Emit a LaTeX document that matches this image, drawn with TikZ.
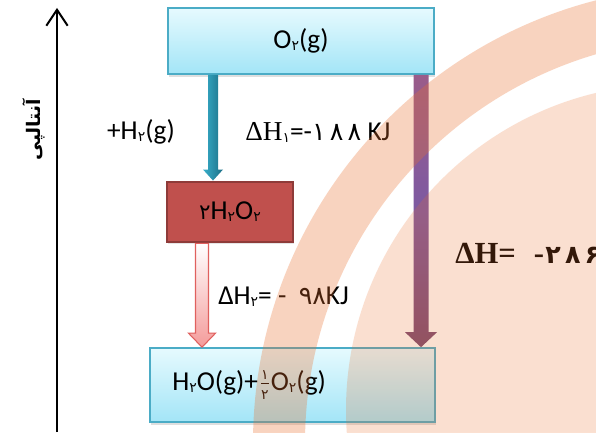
\documentclass[tikz,border=0pt]{standalone}
\usepackage{fontspec}
\setmainfont{Carlito}
\newfontfamily\fa[Script=Arabic]{DejaVu Sans}
\newfontfamily\tms{Liberation Serif}
\TeXXeTstate=1
\usetikzlibrary{arrows.meta,calc,shadows}
\definecolor{boxtop}{HTML}{E6FAFE}
\definecolor{boxbot}{HTML}{A3E5F7}
\definecolor{boxedge}{HTML}{4BACC6}
\definecolor{redfill}{HTML}{C0504D}
\definecolor{rededge}{HTML}{8E3B39}
\definecolor{pinkedge}{HTML}{E0605E}
\definecolor{pinkfill}{HTML}{F49B9A}
\definecolor{tealA}{HTML}{38AECA}
\definecolor{tealB}{HTML}{1C6F86}
\definecolor{purpA}{HTML}{9A5C8A}
\definecolor{purpB}{HTML}{7D5AA2}
\definecolor{wmark}{HTML}{EB702D}
\newcommand{\fsub}[1]{\raisebox{-1.5pt}{\fa\fontsize{10.5}{10.5}\selectfont #1}}
\newcommand{\fdig}[1]{{\fa\fontsize{19}{22}\selectfont #1}}
% fat arrow: style, start, tip, half shaft, half head, head length
\newcommand{\fatarrow}[6]{%
  \path[#1] ($(#2)+(-#4,0)$) -- ($(#3)+(-#4,#6)$) -- ($(#3)+(-#5,#6)$) -- (#3)
    -- ($(#3)+(#5,#6)$) -- ($(#3)+(#4,#6)$) -- ($(#2)+(#4,0)$) -- cycle;}
\begin{document}
\begin{tikzpicture}[x=0.75pt,y=0.75pt,
  txt/.style={inner sep=0pt,font=\fontsize{20.5}{24}\selectfont},
  cyanbox/.style={draw=boxedge,line width=1.2pt,top color=boxtop,bottom color=boxbot,
    drop shadow={opacity=0.25,shadow xshift=0.5pt,shadow yshift=-2pt},inner sep=0pt},
  wm/.style={fill=wmark,fill opacity=#1}]
  \path[use as bounding box,fill=white] (0,0) rectangle (596,432);
  % enthalpy axis
  \coordinate (axbot) at (57,0); \coordinate (axtop) at (57,424);
  \draw[line width=1.5pt,-{Straight Barb[length=12pt,width=16pt,line width=1.5pt]}] (axbot)--(axtop);
  \node[rotate=90,inner sep=0pt] (enth) at (34,302) {\fa\bfseries\fontsize{14}{16}\selectfont\beginR آنتالپی\endR};
  % levels
  \node[cyanbox,minimum width=199.5pt,minimum height=49.5pt] (o2) at (301,391) {};
  \node[txt] (o2t) at (o2) {O\fsub{۲}(g)};
  \node[draw=rededge,line width=2.2pt,fill=redfill,minimum width=94.5pt,minimum height=45pt,
    inner sep=0pt,drop shadow={opacity=0.2,shadow xshift=0.5pt,shadow yshift=-1.5pt}] (h2o2) at (230,220) {};
  \node[txt] (h2o2t) at (h2o2) {{\fa\fontsize{16}{16}\selectfont ۲}H\fsub{۲}O\fsub{۲}};
  \node[cyanbox,minimum width=213.75pt,minimum height=55.5pt] (prod) at (292.5,47) {};
  \node[txt,anchor=west] (prodt) at (172,47) {H\fsub{۲}O(g)+\kern1pt$\frac{\hbox{\fa\fontsize{10.5}{10.5}\selectfont ۱}}{\hbox{\fa\fontsize{10.5}{10.5}\selectfont ۲}}$\kern0.5ptO\fsub{۲}(g)};
  % arrows
  \coordinate (s1) at (213,0 |- o2.south); \coordinate (e1) at (213,0 |- h2o2.north);
  \coordinate (s2) at (202,0 |- h2o2.south); \coordinate (e2) at (202,0 |- prod.north);
  \coordinate (s3) at (421,0 |- o2.south); \coordinate (e3) at (421,0 |- prod.north);
  \fatarrow{left color=tealA,right color=tealB}{s1}{e1}{5}{10}{11}
  \fatarrow{draw=pinkedge,line width=0.8pt,top color=white,bottom color=pinkfill}{s2}{e2}{6.5}{13.5}{14}
  \fatarrow{top color=purpA,bottom color=purpA!80!black,middle color=purpB}{s3}{e3}{7.5}{16}{15}
  % labels
  \node[txt] (addh2) at (141,300) {+H\fsub{۲}(g)};
  \node[txt,anchor=west] (dh1) at (245,300) {{\tms ΔH}\fsub{۱}=-\fdig{۱\,۸\,۸}\ KJ};
  \node[txt,anchor=west] (dh2) at (218,135) {ΔH\fsub{۲}=\ -\ \ \fdig{۹۸}KJ};
  \node[inner sep=0pt,anchor=west,font=\fontsize{23}{26}\selectfont] (dht) at (455,179)
    {{\tms\bfseries ΔH=\ \ \kern2pt-}{\fa\bfseries\fontsize{19}{22}\selectfont\kern1pt ۲\,۸\,۶}};
  % watermark
  \fill[wm=0.3,even odd rule] (710,-11) circle (457) (710,-11) circle (405);
  \fill[wm=0.22] (672,22) circle (326);
\end{tikzpicture}
\end{document}
